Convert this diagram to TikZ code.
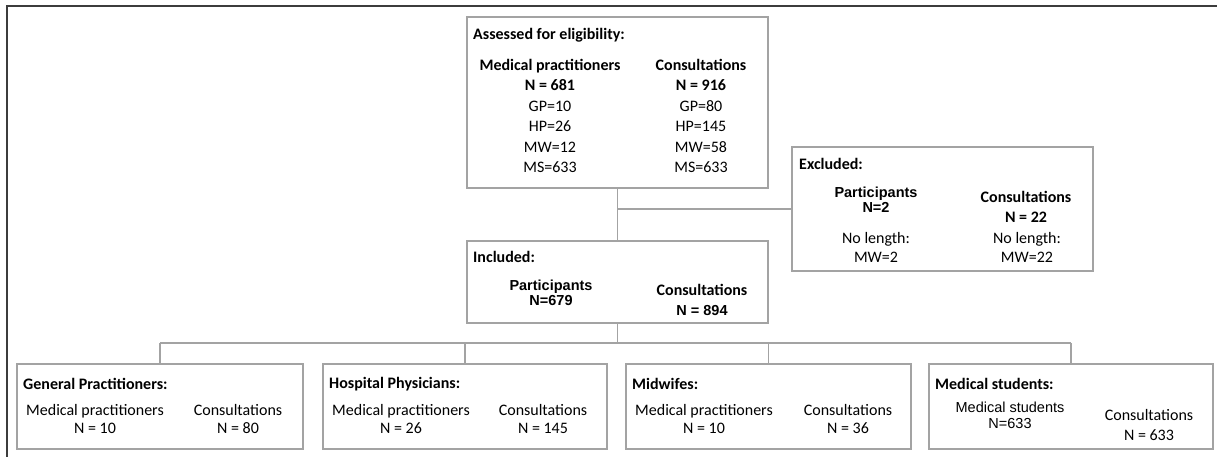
\documentclass[tikz,border=0pt]{standalone}
\usepackage{fontspec}
\setmainfont{Carlito}
\newfontfamily\arialfont{Liberation Sans}
\usepackage{tikz}
\definecolor{boxgray}{HTML}{A3A3A3}
\definecolor{framegray}{HTML}{3C3C3C}
\tikzset{
  boxnode/.style={draw=boxgray, line width=1.1pt, inner sep=0pt},
  linkline/.style={draw=boxgray, line width=1.1pt},
  titletext/.style={inner sep=0pt, anchor=west, font=\fontsize{16}{19}\selectfont\bfseries},
  coltext/.style={inner sep=0pt, align=center, font=\fontsize{16}{20.5}\selectfont},
  smalltext/.style={inner sep=0pt, align=center, font=\fontsize{16}{17.5}\selectfont},
  ariatext/.style={inner sep=0pt, align=center, font=\fontsize{14.5}{15.5}\selectfont\arialfont}
}

\begin{document}
\begin{tikzpicture}[x=1pt,y=-1pt]
      \useasboundingbox (0,0) rectangle (1217,457);
      \draw[framegray, line width=1.8pt] (7,457) -- (7,6) -- (1217,6);

      \node[boxnode, minimum width=301pt, minimum height=171pt] (assessed) at (617.5,102.5) {};
      \node[boxnode, minimum width=301pt, minimum height=124pt] (excluded) at (942.5,209) {};
      \node[boxnode, minimum width=301pt, minimum height=82pt] (included) at (617.5,282) {};
      \node[boxnode, minimum width=286pt, minimum height=85pt] (gp) at (160,406.5) {};
      \node[boxnode, minimum width=284pt, minimum height=85pt] (hp) at (465,406.5) {};
      \node[boxnode, minimum width=285pt, minimum height=85pt] (mw) at (768.5,406.5) {};
      \node[boxnode, minimum width=284pt, minimum height=85pt] (ms) at (1071,406.5) {};
      \coordinate (bus) at (617.5,343);

      \draw[linkline] (assessed) -- (included);
      \draw[linkline] (assessed.south |- excluded.west) -- (excluded.west);
      \draw[linkline] (included) -- (included.south |- bus);
      \draw[linkline] (gp.north |- bus) -- (ms.north |- bus);
      \draw[linkline] (gp.north |- bus) -- (gp.north);
      \draw[linkline] (hp.north |- bus) -- (hp.north);
      \draw[linkline] (mw.north |- bus) -- (mw.north);
      \draw[linkline] (ms.north |- bus) -- (ms.north);

      \node[titletext] (assessedtitle) at (473,35) {Assessed for eligibility:};
      \node[coltext] (assessedleft) at (550,116) {\textbf{Medical practitioners}\\\textbf{N = 681}\\GP=10\\HP=26\\MW=12\\MS=633};
      \node[coltext] (assessedright) at (701,116) {\textbf{Consultations}\\\textbf{N = 916}\\GP=80\\HP=145\\MW=58\\MS=633};

      \node[titletext] (excludedtitle) at (799,164) {Excluded:};
      \node[ariatext] (excludedpart) at (876,199.5) {\textbf{Participants}\\\textbf{N=2}};
      \node[coltext, font=\fontsize{16}{19}\selectfont] (excludedleft) at (876,247.5) {No length:\\MW=2};
      \node[coltext] (excludedcons) at (1026,207) {\textbf{Consultations}\\\textbf{N = 22}};
      \node[coltext, font=\fontsize{16}{19}\selectfont] (excludedright) at (1027,247.5) {No length:\\MW=22};

      \node[titletext] (includedtitle) at (473,257) {Included:};
      \node[ariatext] (includedpart) at (551,293) {\textbf{Participants}\\\textbf{N=679}};
      \node[coltext] (includedcons) at (702,300) {\textbf{Consultations}\\{\arialfont\fontsize{14.5}{20.5}\selectfont\textbf{N = 894}}};

      \node[titletext] (gptitle) at (23,384) {General Practitioners:};
      \node[smalltext] (gpleft) at (95,419) {Medical practitioners\\N = 10};
      \node[smalltext] (gpright) at (238,419) {Consultations\\N = 80};

      \node[titletext] (hptitle) at (329,384) {Hospital Physicians:};
      \node[smalltext] (hpleft) at (401,419) {Medical practitioners\\N = 26};
      \node[smalltext] (hpright) at (543,419) {Consultations\\N = 145};

      \node[titletext] (mwtitle) at (632,384) {Midwifes:};
      \node[smalltext] (mwleft) at (704,419) {Medical practitioners\\N = 10};
      \node[smalltext] (mwright) at (848,419) {Consultations\\N = 36};

      \node[titletext] (mstitle) at (935,384) {Medical students:};
      \node[ariatext, font=\fontsize{14.5}{16}\selectfont\arialfont] (msleft) at (1010,415) {Medical students\\N=633};
      \node[coltext, font=\fontsize{16}{20}\selectfont] (msright) at (1149,425) {Consultations\\N = 633};
    \end{tikzpicture}
\end{document}
